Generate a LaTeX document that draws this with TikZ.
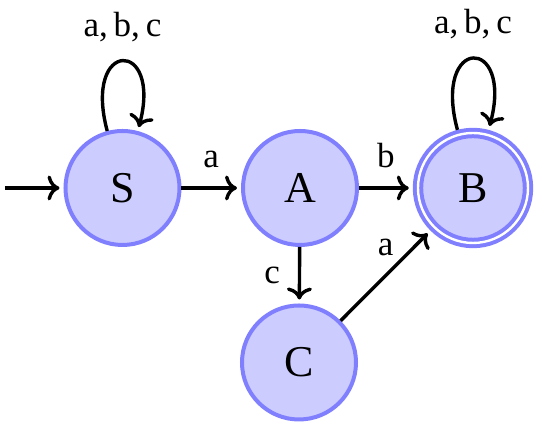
\documentclass[tikz,border=0pt]{standalone}
\usepackage{fontspec}
\setmainfont{Liberation Serif}
\usetikzlibrary{arrows.meta}
\definecolor{stroke}{RGB}{128,128,255}
\definecolor{fillc}{RGB}{204,204,255}
\begin{document}
\begin{tikzpicture}[x=0.5pt,y=0.5pt,
  state/.style={circle, draw=stroke, fill=fillc, line width=2pt, minimum size=57pt, inner sep=0pt, font=\fontsize{22}{26}\selectfont},
  acc/.style={state, minimum size=55pt, double=white, double distance=1.2pt, outer sep=2.6pt},
  edge/.style={line width=1.7pt, -{To[length=6pt,width=12.5pt]}, shorten >=2pt},
  lbl/.style={inner sep=0pt, font=\fontsize{17.5}{21}\selectfont}]
\useasboundingbox (0,0) rectangle (543,426);
\node[state] (S) at (122.5,238) {S};
\node[state] (A) at (300,238) {A};
\node[acc] (B) at (473,238) {B};
\node[state] (C) at (299,63.5) {C};
\coordinate (start) at (5,238);
\draw[edge] (start) -- (S);
\draw[edge] (S) -- node[lbl, above=9pt]{a} (A);
\draw[edge] (A) -- node[lbl, above=9pt]{b} (B);
\draw[edge] (A) -- node[lbl, left=9pt]{c} (C);
\draw[edge] (C) -- node[lbl, above=9pt]{a} (B);
\draw[edge] (S.105) .. controls +(105:96) and +(75:96) .. node[lbl, above=9pt]{a,\,b,\,c} (S.75);
\draw[edge] (B.105) .. controls +(105:98) and +(75:98) .. node[lbl, above=9pt]{a,\,b,\,c} (B.75);
\end{tikzpicture}
\end{document}
